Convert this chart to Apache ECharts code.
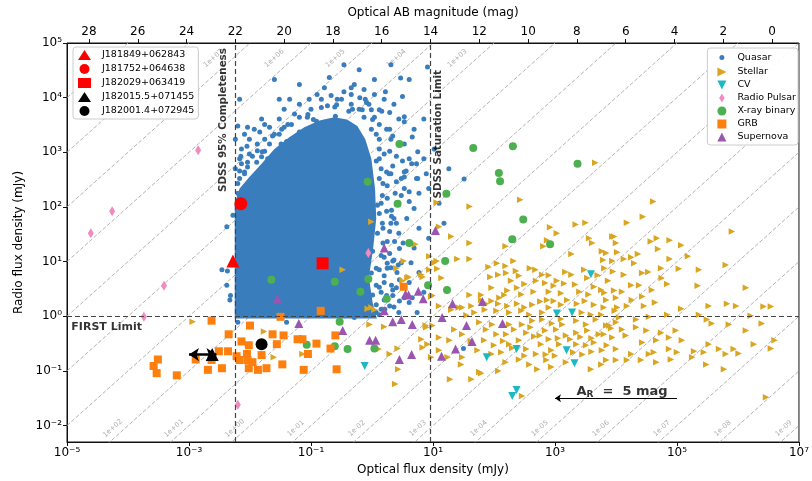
<!DOCTYPE html>
<html>
<head>
<meta charset="utf-8">
<script src="https://cdn.jsdelivr.net/npm/echarts@6/dist/echarts.min.js"></script>
<style>
  html, body { margin: 0; padding: 0; background: #fff; }
  #chart { width: 812px; height: 481px; }
</style>
</head>
<body>
<div id="chart"></div>
<script>
// All positions are [log10(optical flux / mJy), log10(radio flux / mJy)].

// Outline of the densely packed quasar region (solid blue area)
const quasarCore = [
  [-2.25,-0.04],[-2.25,2.07],[-2.17,2.34],[-2.01,2.55],[-1.81,2.79],[-1.60,3.06],[-1.35,3.28],
  [-1.11,3.46],[-0.86,3.58],[-0.62,3.64],[-0.41,3.60],[-0.24,3.48],[-0.11,3.24],[-0.01,2.88],
  [0.05,2.34],[0.07,1.79],[0.02,1.25],[-0.05,0.71],[0.01,0.25],[0.08,-0.04]
];

// Individual quasars around the dense region
const quasar = [
  [-2.20,3.48],[-1.84,3.37],[-1.63,3.30],[-1.48,3.42],[-1.38,3.51],[-1.05,3.69],[-0.73,3.85],[-0.58,3.87],
  [-0.60,3.66],[-0.91,3.57],[-1.19,3.37],[-1.76,3.02],[-1.96,2.93],[-2.14,2.79],[-2.04,2.82],[-1.89,2.82],
  [-1.71,2.88],[-1.80,2.73],[-1.63,2.66],[-1.51,3.01],[-1.40,3.20],[-1.27,3.19],[-1.14,3.30],[-0.20,4.00],
  [-0.32,3.79],[-0.09,3.91],[0.01,3.60],[0.12,3.78],[0.29,3.73],[0.50,4.02],[0.53,3.56],[0.24,3.42],
  [0.34,3.30],[0.07,3.33],[0.12,3.06],[0.29,3.02],[0.40,2.93],[0.50,2.84],[0.65,2.79],[0.56,2.66],
  [0.34,2.75],[0.24,2.64],[0.07,2.84],[0.12,2.52],[0.25,2.39],[0.40,2.46],[0.53,2.55],[0.73,2.52],
  [0.61,2.28],[0.48,2.21],[0.17,2.21],[0.09,2.03],[0.32,1.94],[-2.17,2.52],[-2.09,2.34],[-1.97,2.29],
  [-2.17,2.21],[-2.28,1.85],[-2.09,2.64],[-1.97,2.42],[-1.89,2.39],[-1.73,2.52],
  [0.91,4.56],[0.47,4.36],[-0.34,4.18],[0.22,4.11],[-0.61,3.83],[-0.38,3.75],[-0.16,3.78],[-0.01,3.78],
  [0.16,3.75],[0.53,3.65],[0.04,3.64],[0.29,3.42],[0.66,3.28],[0.75,3.01],[0.73,2.79],[0.89,2.61],
  [0.75,2.52],[0.53,2.64],[1.51,2.51],
  [-2.15,2.93],[-2.05,3.11],[-0.96,3.60],[-1.73,2.70],[-1.80,3.01],
  [0.12,1.88],[0.24,1.92],[0.25,1.37],[0.29,1.15],[0.34,1.01],[0.25,0.88],[0.20,0.74],[0.32,0.57],
  [0.34,0.48],[0.24,0.38],[0.29,0.19],[0.07,0.07],[-0.09,0.03],[-0.29,-0.02],[-0.20,0.28],[0.01,0.39],
  [0.07,0.57],[-0.01,0.79],[0.07,0.88],[0.01,1.19],[0.09,1.52],[-0.01,1.65],[0.17,1.70],
  [-2.46,0.85],[-2.38,0.57],[-2.33,0.30],[-2.37,0.83],[-2.38,1.64],[-2.32,0.38],[-2.20,-0.11],[-1.40,-0.11],
  [0.40,1.70],[0.29,1.55],[0.37,1.37],[0.45,1.24],[0.20,1.08],[0.25,0.97],[0.43,0.94],[0.12,0.85],
  [0.45,0.67],[0.40,0.52],[0.45,0.28],[0.20,0.30],[0.07,0.21],[0.12,0.03],[0.32,1.83],[0.61,2.10],[1.50,-0.59],
  [-2.20,2.43],[-2.09,2.61],[-2.24,2.70],[-2.14,3.06],[-2.01,3.24],[-1.88,3.03],[-1.76,3.24],[-1.68,3.46],
  [-1.52,3.61],[-1.44,3.79],[-1.27,3.70],[-1.19,3.88],[-1.03,3.97],[-0.90,4.06],[-0.78,4.18],[-0.46,4.11],
  [-0.29,4.24],[-0.13,4.15],[0.04,4.06],[0.20,3.97],[0.36,3.88],[-0.70,4.37],[-1.35,3.97],[-1.81,3.61],
  [-2.04,3.46],[-1.93,2.43],[-1.71,2.61],[-1.55,2.88],[-1.39,3.10],[-1.22,3.28],[-1.03,3.42],[-0.78,3.55],
  [-0.54,3.57],[-0.34,3.88],[-0.57,3.97],[-0.83,3.82],[-1.06,3.64],[-1.60,3.33],[-1.44,3.46],
  [-0.13,3.64],[-0.01,3.42],[0.12,3.24],[0.20,2.97],[0.15,2.70],[0.25,2.16],[0.18,1.61],[0.36,1.79],
  [0.44,1.52],[0.15,1.11],[0.36,1.03],[0.20,0.62],[0.41,0.80],[0.15,0.44],[0.36,0.17],[0.53,0.34],
  [0.61,0.62],[0.64,0.98],[0.69,1.25],[0.77,1.61],[0.69,1.97],[0.53,2.34],[0.77,2.25],[0.85,2.88],
  [0.93,2.34],[1.10,2.07],[1.18,1.70],[0.93,1.43],[0.44,3.61],[0.69,3.42],[0.85,3.61],[1.02,3.06],
  [1.26,2.70],[0.53,3.15],[0.31,2.61],[-0.05,3.88],[-0.21,4.51],[0.31,4.60],[0.04,4.33],[0.61,4.33],
  [-0.46,4.60],[-1.19,4.24],[-1.52,3.97],[-1.60,4.33],[-2.17,3.97],[-2.24,3.24],[0.15,0.13],
  [-2.09,3.33],[-1.93,3.42],[-1.76,3.51],[-2.17,2.88],[-2.01,2.97],[-1.88,3.15],[-1.68,3.15],[-1.52,3.33],
  [-1.32,3.51],[-1.19,3.64],[-1.00,3.79],[-0.83,3.97],[-0.67,4.04],[-0.50,3.97],[-0.34,4.06],[-0.21,3.79],
  [-0.11,3.97],[-2.17,2.66],[-2.04,2.73],[-1.81,2.92],[-1.60,2.88],[-1.49,3.15],[-1.81,2.55],[-2.20,2.25],
  [0.12,2.88],[0.18,2.43],[0.28,2.61],[0.38,2.25],[0.15,2.07],[0.31,1.70],[0.18,1.34],[0.51,1.34],
  [0.31,0.89],[0.48,0.98],[0.12,0.53],[0.34,0.38],[0.61,0.25],[0.21,0.13],[0.44,0.07],[0.74,0.07],
  [0.66,0.34],[0.77,0.80],[0.85,0.44],[0.57,1.79],[0.48,2.52],[0.12,3.51],[0.31,3.24],[0.61,2.88]
];

const stellar = [
  [1.60,2.01],[1.10,1.64],[1.30,1.46],[1.60,1.34],[0.94,1.10],[1.40,1.05],[1.60,1.05],[1.07,0.87],[1.14,0.70],
  [1.91,0.90],[2.05,0.97],[2.19,0.92],[2.32,1.01],[2.36,0.83],[2.59,0.88],[2.68,0.85],[2.79,0.76],[2.92,1.63],
  [3.03,1.52],[3.34,1.68],[3.50,1.71],[3.56,1.43],[3.61,1.34],[2.87,1.39],[2.81,1.28],[3.27,1.14],[3.77,1.19],
  [3.79,1.03],[3.97,1.46],[2.19,1.28],[1.94,0.72],[2.07,0.76],[2.20,0.79],[2.28,0.65],[2.41,0.74],[2.50,0.59],
  [2.69,0.65],[2.84,0.61],[2.98,0.56],[3.03,0.65],[3.17,0.81],[3.27,0.76],[3.33,0.58],[3.48,0.85],[3.53,0.70],
  [3.64,0.54],[3.76,0.48],[3.87,0.65],[4.00,0.34],[3.84,0.30],[1.60,0.39],[1.79,0.39],[1.96,0.52],[2.17,0.39],
  [2.22,0.47],[2.38,0.52],[1.79,0.30],[1.96,0.28],[2.09,0.34],[1.48,0.16],[1.63,0.19],[1.87,0.23],[2.07,0.23],
  [2.22,0.19],[2.38,0.23],[2.50,0.16],[2.63,0.21],[2.76,0.27],[2.87,0.30],[2.98,0.28],[3.10,0.21],[3.20,0.30],
  [3.36,0.23],[3.49,0.28],[3.64,0.21],[3.80,0.16],[3.98,0.10],[1.30,0.12],[1.10,0.19],[0.99,0.38],[0.83,0.72],
  [0.94,0.85],[1.42,0.16],[1.68,0.07],[2.04,0.10],[2.25,0.07],[2.45,0.10],[2.58,0.03],[2.79,0.07],[2.90,0.16],
  [3.44,0.07],[3.59,0.03],[3.76,0.03],
  [0.99,-0.17],[0.91,-0.51],[1.10,-0.39],[1.27,-0.44],[1.35,-0.24],[1.48,-0.33],[1.76,-0.11],[1.87,-0.24],
  [1.97,-0.15],[2.04,-0.33],[1.84,-0.44],[2.00,-0.53],[2.20,-0.33],[2.33,-0.24],[2.46,-0.15],[2.63,-0.08],
  [2.79,-0.06],[2.95,-0.13],[3.12,-0.15],[3.35,-0.08],[3.51,-0.15],[3.67,-0.06],[3.84,-0.17],[4.00,-0.11],
  [2.53,-0.30],[2.66,-0.37],[2.84,-0.26],[3.02,-0.24],[3.18,-0.35],[3.35,-0.30],[3.53,-0.26],[3.72,-0.33],
  [3.94,-0.39],[2.25,-0.51],[2.41,-0.44],[2.53,-0.60],[2.77,-0.51],[2.94,-0.62],[3.07,-0.51],[3.35,-0.51],
  [3.51,-0.53],[3.64,-0.48],[3.85,-0.53],[2.69,-0.69],[2.58,-0.88],[2.71,-0.97],[2.86,-0.80],[3.18,-0.84],
  [2.94,-0.93],[2.12,-0.66],[1.96,-0.69],[1.73,-0.62],[1.48,-0.75],[1.24,-0.75],[1.46,-0.88],[1.76,-1.02],
  [2.07,-1.00],[2.19,-0.84],[2.41,-0.79],[1.28,-1.15],[1.63,-1.15],[3.59,-0.97],[3.76,-0.88],[4.00,-0.80],
  [2.46,-1.46],[1.10,-0.62],[0.83,-0.57],[0.89,-0.20],[0.81,-0.42],[0.97,-0.75],[0.81,0.76],[1.02,0.98],
  [1.06,2.08],[2.43,2.13],[3.66,2.81],[4.61,2.10],
  [4.18,1.71],[4.44,1.82],[5.90,1.55],[3.94,1.46],[4.00,1.34],[4.57,1.37],[4.67,1.43],[4.88,1.39],[5.07,1.30],
  [3.84,1.16],[4.02,1.17],[4.36,1.14],[4.69,1.23],[3.94,1.01],[4.13,1.05],[4.25,1.08],[4.88,1.05],[5.18,1.10],
  [3.81,0.88],[4.13,0.76],[4.30,0.97],[4.43,0.79],[4.53,0.81],[4.74,0.88],[5.03,0.87],[5.36,0.85],[5.80,0.94],
  [4.75,0.70],[4.84,0.59],[4.59,0.48],[4.25,0.57],[4.38,0.57],[3.81,0.43],[3.97,0.47],[4.26,0.30],[4.43,0.36],
  [4.02,0.16],[4.18,0.19],[4.46,0.19],[4.64,0.25],[5.07,0.14],[5.52,0.19],[5.82,0.23],[5.97,0.19],[5.34,0.56],
  [6.13,0.52],[6.42,0.18],[6.54,0.18],[4.05,-0.02],[4.33,-0.06],[4.54,-0.01],[4.84,0.03],[5.36,0.03],
  [5.49,-0.06],[5.57,-0.13],[5.85,-0.15],[6.21,0.01],[6.39,-0.13],[3.89,-0.17],[4.10,-0.24],[4.33,-0.20],
  [4.50,-0.26],[4.74,-0.30],[4.98,-0.26],[3.80,-0.33],[4.16,-0.35],[4.43,-0.48],[4.66,-0.44],[4.87,-0.39],
  [5.08,-0.44],[5.52,-0.51],[5.69,-0.60],[5.80,-0.69],[5.93,-0.60],[6.01,-0.68],[6.13,-0.26],[6.26,-0.51],
  [6.54,-0.59],[6.60,-0.44],[3.77,-0.62],[4.00,-0.60],[4.25,-0.69],[4.54,-0.69],[4.62,-0.66],[4.87,-0.60],
  [5.00,-0.66],[5.28,-0.64],[5.44,-0.66],[3.84,-0.80],[4.18,-0.80],[4.41,-0.80],[4.66,-0.84],[4.90,-0.79],
  [5.25,-0.75],[5.48,-0.88],[5.77,-0.97],[6.46,-1.48],
  [1.06,1.01],[0.52,1.01],[0.40,0.88],[0.58,0.70],[-0.01,1.73],[0.71,1.32],[0.97,0.36],[-0.01,0.16],
  [0.20,-0.19],[0.88,-0.17],[0.43,-0.97],[0.38,-1.24],[0.29,-0.69],[0.42,-0.59],[0.11,-0.60],[1.79,-1.04],
  [-0.48,0.85],[0.50,0.65],[0.60,0.72],[-0.07,0.14],[0.04,0.12],[-0.04,-0.15],[-2.94,-0.10],[-1.77,-0.28],
  [-1.61,-0.75],[-1.14,-0.69],
  [2.60,-0.20],[2.75,-0.35],[2.90,-0.42],[3.05,-0.40],[3.25,-0.42],[3.42,-0.38],[3.60,-0.40],[2.85,-0.70],
  [3.00,-0.72],[3.30,-0.66],[3.45,-0.70],[3.60,-0.65],[2.50,-0.72],[2.30,-0.58],[2.15,-0.45],[2.90,0.45],
  [3.10,0.42],[3.40,0.45],[3.55,0.40],[2.65,0.45],[2.45,0.40],[3.15,0.60],[2.90,0.75],[3.70,0.75],
  [3.95,0.82],[4.10,0.45],[3.92,-0.22],[3.10,-0.05],[2.25,-0.15],[1.62,-0.45],[1.55,0.02],[1.85,0.12]
];

const cv = [
  [-0.12,-0.91],[3.59,0.77],[3.03,0.05],[3.28,0.07],[2.37,-0.60],[3.19,-0.62],[3.32,-0.86],[1.88,-0.75],
  [2.37,-1.35],[2.30,-1.46]
];

const radioPulsar = [
  [-2.85,3.04],[-4.26,1.92],[-4.61,1.52],[-3.41,0.56],[-3.74,-0.01],[-2.20,-1.62],[-0.06,1.16]
];

const xrayBinary = [
  [0.45,3.15],[1.66,3.08],[2.31,3.11],[2.08,2.62],[2.10,2.47],[1.22,2.24],[0.42,2.06],[-0.07,2.46],
  [3.37,2.79],[2.48,1.77],[2.30,1.41],[2.92,1.32],[1.20,1.01],[0.92,0.57],[1.23,0.48],[0.61,1.34],
  [-0.61,0.63],[-0.06,0.68],[-0.19,0.45],[0.24,0.32],[-0.53,-0.10],[-1.07,-0.52],[-0.61,-0.55],
  [-0.40,-0.60],[0.04,-0.59],[-1.65,0.67]
];

const grb = [
  [-2.63,-0.08],[-2.35,-0.33],[-2.00,-0.17],[-2.14,-0.46],[-2.02,-0.53],[-2.51,-0.64],[-2.36,-0.64],
  [-2.22,-0.73],[-2.17,-0.80],[-2.04,-0.80],[-1.96,-0.84],[-2.05,-0.69],[-1.81,-0.71],[-2.02,-0.95],
  [-1.87,-0.98],[-1.73,-0.95],[-1.63,-0.33],[-1.56,-0.51],[-1.45,-0.35],[-1.50,-0.01],[-1.47,-0.88],
  [-1.22,-0.42],[-1.14,-0.42],[-1.05,-0.69],[-1.12,-0.98],[-0.91,-0.50],[-2.89,-0.79],[-2.63,-0.80],
  [-2.46,-0.95],[-2.69,-0.98],[-3.51,-0.79],[-3.58,-0.91],[-3.53,-1.04],[-3.20,-1.08],[-0.84,0.10],
  [0.52,0.54],[-0.60,-0.35],[-0.68,-0.59],[-0.58,-0.97]
];

const supernova = [
  [0.20,1.25],[1.04,1.57],[0.55,0.41],[0.60,0.39],[0.76,0.46],[0.84,0.32],[0.20,0.10],[1.32,0.23],
  [1.81,0.27],[1.15,-0.02],[0.34,-0.10],[0.48,-0.06],[0.66,-0.15],[-0.48,-0.26],[-0.04,-0.44],[0.06,-0.44],
  [1.55,-0.17],[2.14,-0.13],[1.64,-0.46],[1.37,-0.60],[1.14,-0.73],[0.45,-0.79],[0.65,-0.70],[-1.20,-0.13],
  [-1.55,0.32]
];

// Highlighted sources
const srcJ181849 = [[-2.28, 1.01]];
const srcJ181752 = [[-2.15, 2.06]];
const srcJ182029 = [[-0.81, 0.97]];
const srcJ182015 = [[-2.62, -0.70]];
const srcJ182001 = [[-1.81, -0.51]];

// Optical range arrow around J182015.5+071455
const j182015Range = [-3.00, -2.55];

// Radio-to-optical flux ratio lines, 10^k
const ratioExponents = [10,9,8,7,6,5,4,3,2,1,0,-1,-2,-3,-4,-5,-6,-7,-8,-9,-10,-11,-12];
const ratioLabelsTop = [7,6,5,4,3];
const ratioLabelsBottom = [2,1,0,-1,-2,-3,-4,-5,-6,-7,-8,-9];

// Axis ticks
const fluxTicks = [-5,-3,-1,1,3,5,7];
const radioTicks = [-2,-1,0,1,2,3,4,5];
const magTicks = [0,2,4,6,8,10,12,14,16,18,20,22,24,26,28];

// Survey limits
const sdssCompletenessMag = 22;
const sdssSaturationMag = 14;
const firstLimitLog = 0;          // 1 mJy
const extinctionMag = 5;          // A_R arrow length

const FONT = 'DejaVu Sans';
const COLORS = {
  quasar: '#3a7dbd', stellar: '#daa520', cv: '#1cb8c4', pulsar: '#f28ac2',
  xrb: '#4caf50', grb: '#ff7f0e', sn: '#9a55b0'
};

// AB magnitude <-> log10(flux/mJy)
const magToLog = m => (16.4 - m) / 2.5;
const logToMag = v => 16.4 - 2.5 * v;

const SUP = {'-':'\u207B','0':'\u2070','1':'\u00B9','2':'\u00B2','3':'\u00B3','4':'\u2074',
             '5':'\u2075','6':'\u2076','7':'\u2077','8':'\u2078','9':'\u2079'};
const pow10 = v => '10' + String(Math.round(v)).split('').map(c => SUP[c]).join('');
const ratioText = k => '1e' + (k >= 0 ? '+' : '-') + String(Math.abs(k)).padStart(2, '0');

// Marker shapes
const ICON_RIGHT = 'path://M0,0 L10,5 L0,10 Z';
const ICON_DOWN = 'path://M0,0 L10,0 L5,10 Z';
const ICON_THIN_DIAMOND = 'path://M3,0 L6,5 L3,10 L0,5 Z';

const chart = echarts.init(document.getElementById('chart'), null, {renderer: 'canvas'});

const ratioLineSeries = ratioExponents.map(k => ({
  type: 'line', silent: true, z: 1, symbol: 'none', showSymbol: false,
  data: [[-5, -5 + k], [7, 7 + k]],
  lineStyle: {color: '#a9a9a9', width: 0.9, type: [4, 2]}
}));

const ratioLabelData = [
  ...ratioLabelsTop.map(k => ({value: [4.7 - k - 0.3, 4.72], name: ratioText(k)})),
  ...ratioLabelsBottom.map(k => ({value: [-2.05 - k - 0.2, -2.05], name: ratioText(k)}))
];

const scatter = (name, data, symbol, size, color, extra) => Object.assign({
  type: 'scatter', name, data, symbol, symbolSize: size,
  itemStyle: {color, opacity: 1}, z: 4, silent: true
}, extra || {});

const legendText = {fontSize: 9.5, color: '#000', fontFamily: FONT};

const option = {
  animation: false,
  backgroundColor: '#fff',
  textStyle: {fontFamily: FONT},
  grid: {left: 67, right: 11, top: 43, bottom: 35, show: true, borderColor: '#111', borderWidth: 1},
  xAxis: [{
    type: 'value', min: -5, max: 7, position: 'bottom',
    name: 'Optical flux density (mJy)', nameLocation: 'middle', nameGap: 22,
    nameTextStyle: {fontSize: 12, color: '#000', fontFamily: FONT},
    axisLine: {show: true, onZero: false, lineStyle: {color: '#111'}},
    axisTick: {show: true, length: 4, customValues: fluxTicks, lineStyle: {color: '#111'}},
    axisLabel: {customValues: fluxTicks, formatter: v => pow10(v), fontSize: 12, color: '#000', margin: 5, fontFamily: FONT},
    splitLine: {show: false}
  }, {
    type: 'value', min: -5, max: 7, position: 'top',
    name: 'Optical AB magnitude (mag)', nameLocation: 'middle', nameGap: 24,
    nameTextStyle: {fontSize: 12, color: '#000', fontFamily: FONT},
    axisLine: {show: true, onZero: false, lineStyle: {color: '#111'}},
    axisTick: {show: true, length: 4, customValues: magTicks.map(magToLog), lineStyle: {color: '#111'}},
    axisLabel: {customValues: magTicks.map(magToLog), formatter: v => String(Math.round(logToMag(v))),
                fontSize: 12, color: '#000', margin: 5, fontFamily: FONT},
    splitLine: {show: false}
  }],
  yAxis: {
    type: 'value', min: -2.3, max: 5,
    name: 'Radio flux density (mJy)', nameLocation: 'middle', nameGap: 37, nameRotate: 90,
    nameTextStyle: {fontSize: 12, color: '#000', fontFamily: FONT},
    axisLine: {show: true, onZero: false, lineStyle: {color: '#111'}},
    axisTick: {show: true, length: 4, customValues: radioTicks, lineStyle: {color: '#111'}},
    axisLabel: {customValues: radioTicks, formatter: v => pow10(v), fontSize: 12, color: '#000', margin: 5, fontFamily: FONT},
    splitLine: {show: false}
  },
  legend: [{
    data: ['J181849+062843', 'J181752+064638', 'J182029+063419', 'J182015.5+071455', 'J182001.4+072945'],
    left: 73, top: 47, orient: 'vertical', itemGap: 4, itemWidth: 13, itemHeight: 10,
    padding: [3, 4, 3, 5], backgroundColor: 'rgba(255,255,255,0.9)', borderColor: '#ccc', borderWidth: 1,
    borderRadius: 3, selectedMode: false,
    textStyle: Object.assign({}, legendText, {padding: [0, 0, 0, 6]})
  }, {
    data: [
      {name: 'Quasar', icon: 'circle', itemStyle: {borderColor: '#fff', borderWidth: 4}},
      {name: 'Stellar', icon: ICON_RIGHT},
      {name: 'CV', icon: ICON_DOWN},
      {name: 'Radio Pulsar', icon: ICON_THIN_DIAMOND},
      {name: 'X-ray binary', icon: 'circle'},
      {name: 'GRB', icon: 'rect'},
      {name: 'Supernova', icon: 'triangle'}
    ],
    right: 14, top: 48, orient: 'vertical', itemGap: 3, itemWidth: 9, itemHeight: 9,
    padding: [3, 2, 3, 8], backgroundColor: 'rgba(255,255,255,0.9)', borderColor: '#ccc', borderWidth: 1,
    borderRadius: 3, selectedMode: false,
    textStyle: Object.assign({}, legendText, {padding: [0, 0, 0, 6]})
  }],
  series: [
    ...ratioLineSeries,
    {
      type: 'scatter', name: 'ratioLabels', silent: true, z: 1,
      data: ratioLabelData, symbolSize: 1, itemStyle: {color: 'rgba(0,0,0,0)'},
      label: {show: true, position: 'inside', formatter: p => p.name, rotate: 42,
              fontSize: 7, color: '#999', fontFamily: FONT}
    },
    {
      type: 'scatter', name: 'limits', silent: true, z: 2,
      data: [[magToLog(sdssCompletenessMag), firstLimitLog]], symbolSize: 0,
      itemStyle: {color: 'rgba(0,0,0,0)'},
      markLine: {
        silent: true, symbol: ['none', 'none'], label: {show: false}, animation: false,
        lineStyle: {color: '#444', width: 1.2, type: [5, 3]},
        data: [{xAxis: magToLog(sdssCompletenessMag)}, {xAxis: magToLog(sdssSaturationMag)}, {yAxis: firstLimitLog}]
      }
    },
    {
      type: 'custom', name: 'quasarCore', silent: true, z: 3, clip: true,
      data: [[0, 0]],
      renderItem: (params, api) => ({
        type: 'polygon',
        shape: {points: quasarCore.map(p => api.coord(p))},
        style: {fill: COLORS.quasar}
      })
    },
    scatter('Quasar', quasar, 'circle', 5, COLORS.quasar, {z: 3}),
    scatter('Stellar', stellar, ICON_RIGHT, 6.5, COLORS.stellar),
    scatter('CV', cv, ICON_DOWN, 8, COLORS.cv),
    scatter('Radio Pulsar', radioPulsar, 'diamond', [6, 10], COLORS.pulsar),
    scatter('X-ray binary', xrayBinary, 'circle', 8, COLORS.xrb),
    scatter('GRB', grb, 'rect', 8, COLORS.grb),
    scatter('Supernova', supernova, 'triangle', 9, COLORS.sn),
    scatter('J181849+062843', srcJ181849, 'triangle', 13, '#ff0000', {z: 8}),
    scatter('J181752+064638', srcJ181752, 'circle', 13, '#ff0000', {z: 8}),
    scatter('J182029+063419', srcJ182029, 'rect', 12, '#ff0000', {z: 8}),
    scatter('J182015.5+071455', srcJ182015, 'triangle', 13, '#000', {z: 8}),
    scatter('J182001.4+072945', srcJ182001, 'circle', 12, '#000', {z: 8}),
    {
      type: 'scatter', name: 'annotations', silent: true, z: 9,
      symbolSize: 1, itemStyle: {color: 'rgba(0,0,0,0)'},
      data: [
        {value: [magToLog(sdssCompletenessMag) - 0.2, 3.59],
         label: {show: true, position: 'inside', rotate: 90, formatter: 'SDSS 95% Completeness',
                 fontSize: 10.3, fontWeight: 'bold', color: '#000', fontFamily: FONT}},
        {value: [magToLog(sdssSaturationMag) + 0.12, 3.33],
         label: {show: true, position: 'inside', rotate: 90, formatter: 'SDSS Saturation Limit',
                 fontSize: 10.3, fontWeight: 'bold', color: '#000', fontFamily: FONT}},
        {value: [-4.35, firstLimitLog - 0.2],
         label: {show: true, position: 'inside', formatter: 'FIRST Limit',
                 fontSize: 11, fontWeight: 'bold', color: '#000', fontFamily: FONT}},
        {value: [4.1, -1.38],
         label: {show: true, position: 'inside', formatter: '{a|A}{r|R}{a|  =  ' + extinctionMag + ' mag}',
                 rich: {
                   a: {fontSize: 13, fontWeight: 'bold', color: '#000', fontFamily: FONT, lineHeight: 14, verticalAlign: 'top'},
                   r: {fontSize: 9, fontWeight: 'bold', color: '#000', fontFamily: FONT, lineHeight: 10, padding: [8, 0, 0, 0], verticalAlign: 'bottom'}
                 }}}
      ],
      markLine: {
        silent: true, animation: false, label: {show: false},
        data: [
          [{coord: [5, -1.5], symbol: 'none', lineStyle: {color: '#000', width: 1.2, type: 'solid'}},
           {coord: [5 - extinctionMag / 2.5, -1.5], symbol: 'arrow', symbolSize: 6}],
          [{coord: [j182015Range[1], srcJ182015[0][1]], symbol: 'arrow', symbolSize: 10, lineStyle: {color: '#000', width: 2.5, type: 'solid'}},
           {coord: [j182015Range[0], srcJ182015[0][1]], symbol: 'arrow', symbolSize: 10}]
        ]
      }
    }
  ]
};

chart.setOption(option);
</script>
</body>
</html>
